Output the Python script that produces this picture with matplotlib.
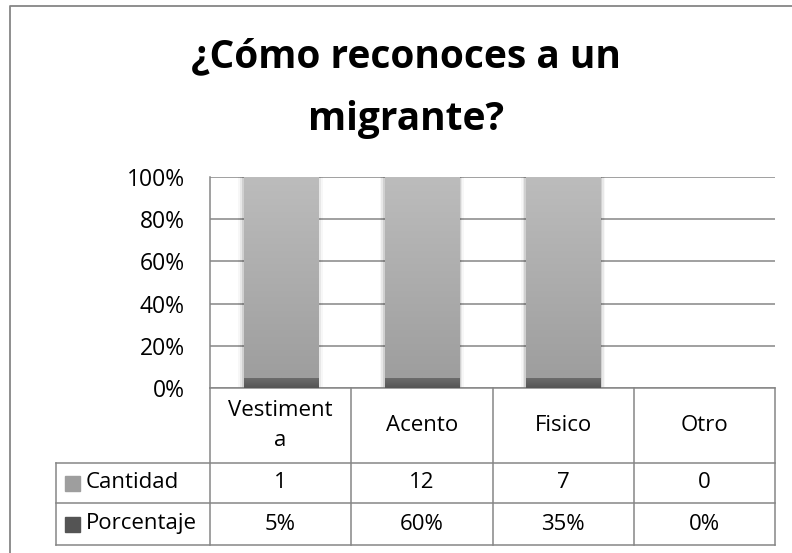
import matplotlib.pyplot as plt
import numpy as np
from matplotlib.lines import Line2D

plt.rcParams['font.family'] = ['Open Sans', 'DejaVu Sans']

titulo = ['¿Cómo reconoces a un', 'migrante?']
categorias = ['Vestimenta', 'Acento', 'Fisico', 'Otro']
encabezados = ['Vestiment\na', 'Acento', 'Fisico', 'Otro']  # como sale cortado en la tabla
cantidad = [1, 12, 7, 0]
porcentaje = [0.05, 0.60, 0.35, 0.0]
series = ['Cantidad', 'Porcentaje']
y_ticks = [0, 0.2, 0.4, 0.6, 0.8, 1.0]

GRID = '#868686'
COL_CANT = ('#bcbcbc', '#9e9e9e')
COL_PORC = ('#6e6e6e', '#545454')
FS = 16

fig = plt.figure(figsize=(7.92, 5.53), dpi=100)
W, H = 792, 553
# area del grafico en pixeles
x0, x1, y_top, y_bot = 210, 775, 177, 388
ax = fig.add_axes([x0 / W, 1 - y_bot / H, (x1 - x0) / W, (y_bot - y_top) / H])

# 100% apilado
cant = np.array(cantidad, dtype=float)
porc = np.array(porcentaje, dtype=float)
total = cant + porc
with np.errstate(invalid='ignore', divide='ignore'):
    s_porc = np.where(total > 0, porc / total, 0)
    s_cant = np.where(total > 0, cant / total, 0)

x = np.arange(len(categorias))
bw = 0.525
bars_p = ax.bar(x, s_porc, bw, color=COL_PORC[1], zorder=3)
bars_c = ax.bar(x, s_cant, bw, bottom=s_porc, color=COL_CANT[1], zorder=3)

# sombra suave a los lados de las barras
for b in list(bars_c) + list(bars_p):
    if b.get_height() <= 0:
        continue
    for k, a in enumerate([0.10, 0.06, 0.03]):
        d = 0.012 * (k + 1)
        ax.add_patch(plt.Rectangle((b.get_x() - d, b.get_y()), b.get_width() + 2 * d,
                                   b.get_height(), color='black', alpha=a, lw=0, zorder=2))

# degradado vertical en cada barra
grad = np.linspace(0, 1, 100).reshape(-1, 1)
for bars, (c_top, c_bot) in [(bars_c, COL_CANT), (bars_p, COL_PORC)]:
    cmap = plt.matplotlib.colors.LinearSegmentedColormap.from_list('g', [c_bot, c_top])
    for b in bars:
        if b.get_height() <= 0:
            continue
        im = ax.imshow(grad, cmap=cmap, aspect='auto', origin='lower', zorder=4,
                       extent=[b.get_x(), b.get_x() + b.get_width(),
                               b.get_y(), b.get_y() + b.get_height()])
        im.set_clip_path(b)

ax.set_xlim(-0.5, len(categorias) - 0.5)
ax.set_ylim(0, 1)
ax.set_yticks(y_ticks)
ax.set_yticklabels([f'{t:.0%}' for t in y_ticks], fontsize=16.5)
ax.tick_params(axis='y', length=0, pad=18)
ax.set_xticks([])
for t in y_ticks:
    ax.axhline(t, color=GRID, lw=1.1, zorder=1)
for side in ['top', 'right', 'bottom']:
    ax.spines[side].set_visible(False)
ax.spines['left'].set_color(GRID)
ax.spines['left'].set_linewidth(1.1)

# tabla de datos debajo
tr = ax.get_xaxis_transform()
ax_h = y_bot - y_top
r_head = (y_bot - 463) / ax_h
r_cant = (y_bot - 503) / ax_h
r_porc = (y_bot - 545) / ax_h
x_leg = -0.5 - (x0 - 56) / ((x1 - x0) / len(categorias))
kw = dict(color=GRID, lw=1.1, transform=tr, clip_on=False)
ax.plot([-0.5, len(categorias) - 0.5], [0, 0], **kw)
for yy in [r_head, r_cant, r_porc]:
    ax.plot([x_leg, len(categorias) - 0.5], [yy, yy], **kw)
for i in range(len(categorias) + 1):
    ax.plot([i - 0.5, i - 0.5], [0, r_porc], **kw)
ax.plot([x_leg, x_leg], [r_head, r_porc], **kw)

for i, cat in enumerate(encabezados):
    ax.text(i, r_head / 2, cat, transform=tr, ha='center', va='center',
            fontsize=FS, linespacing=1.6)
    ax.text(i, (r_head + r_cant) / 2, str(cantidad[i]), transform=tr,
            ha='center', va='center', fontsize=FS)
    ax.text(i, (r_cant + r_porc) / 2, f'{porcentaje[i]:.0%}', transform=tr,
            ha='center', va='center', fontsize=FS)

# leyenda dentro de la tabla
for j, (nombre, cols) in enumerate(zip(series, [COL_CANT, COL_PORC])):
    yc = [(r_head + r_cant) / 2, (r_cant + r_porc) / 2][j]
    ax.add_patch(plt.Rectangle((x_leg + 0.065, yc - 0.04), 0.105, 0.072, transform=tr,
                               color=cols[1], clip_on=False))
    ax.text(x_leg + 0.21, yc, nombre, transform=tr, ha='left', va='center', fontsize=FS)

# titulo, dos renglones
for linea, yb in zip(titulo, [67, 130]):
    fig.text(0.513, 1 - yb / H, linea, ha='center', va='baseline', fontsize=28,
             fontweight='bold')

# marco exterior (recortado a la derecha y abajo)
fig.add_artist(Line2D([10 / W, 10 / W, 1], [0, 1 - 6 / H, 1 - 6 / H],
                      color=GRID, lw=1.3, transform=fig.transFigure))

fig.savefig('out.png', dpi=100, facecolor='white')
